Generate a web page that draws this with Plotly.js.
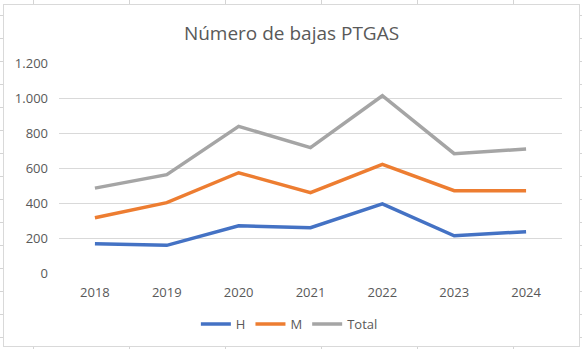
<!DOCTYPE html>
<html>
<head>
<meta charset="utf-8">
<script src="https://cdn.plot.ly/plotly-3.0.1.min.js"></script>
<style>
  html, body { margin: 0; padding: 0; }
  #page {
    position: relative; width: 582px; height: 349px; overflow: hidden;
    background-color: #ffffff;
    background-image:
      repeating-linear-gradient(to right, transparent 0px, transparent 33px, #d4d4d4 33px, #d4d4d4 34px, transparent 34px, transparent 96px),
      repeating-linear-gradient(to bottom, transparent 0px, transparent 15px, #d4d4d4 15px, #d4d4d4 16px, transparent 16px, transparent 23px);
  }
  #box {
    position: absolute; left: 3px; top: 4px; width: 575px; height: 341px;
    border: 1px solid #d9d9d9; background: #ffffff;
  }
  #chart { width: 575px; height: 341px; }
</style>
</head>
<body>
<div id="page"><div id="box"><div id="chart"></div></div></div>
<script>
// Data
const years = ['2018', '2019', '2020', '2021', '2022', '2023', '2024'];
const hombres = [167, 158, 270, 259, 395, 213, 236];
const mujeres = [316, 402, 573, 459, 621, 470, 470];
const total = [485, 562, 838, 716, 1013, 682, 708];
const seriesNames = ['H', 'M', 'Total'];
const chartTitle = 'Número de bajas PTGAS';

const colors = ['#4472C4', '#ED7D31', '#A5A5A5'];
const values = [hombres, mujeres, total];

const traces = values.map((v, i) => ({
  type: 'scatter',
  mode: 'lines',
  x: years,
  y: v,
  name: seriesNames[i],
  line: { color: colors[i], width: 3.5 },
  hoverinfo: 'x+y+name'
}));

const font = "'Open Sans', 'Liberation Sans', sans-serif";

const layout = {
  width: 575,
  height: 341,
  margin: { l: 55, r: 17, t: 58, b: 73, autoexpand: false },
  paper_bgcolor: '#ffffff',
  plot_bgcolor: '#ffffff',
  separators: ',.',
  font: { family: font, size: 13, color: '#595959' },
  title: {
    text: chartTitle,
    font: { family: font, size: 19, color: '#595959' },
    x: 0.5, xanchor: 'center',
    y: 1 - 28 / 341, yanchor: 'middle', yref: 'container'
  },
  xaxis: {
    type: 'category',
    range: [-0.5, years.length - 0.5],
    showgrid: false,
    zeroline: false,
    showline: false,
    ticks: '',
    tickfont: { family: font, size: 13, color: '#595959' },
    ticklabelstandoff: 10,
    fixedrange: true
  },
  yaxis: {
    range: [0, 1200],
    dtick: 200,
    tickformat: ',d',
    showgrid: true,
    gridcolor: '#d9d9d9',
    gridwidth: 1,
    zeroline: false,
    showline: false,
    ticks: '',
    tickfont: { family: font, size: 13, color: '#595959' },
    ticklabelstandoff: 10,
    fixedrange: true
  },
  showlegend: true,
  legend: {
    orientation: 'h',
    x: 0.458, xanchor: 'center',
    y: -0.243, yanchor: 'middle',
    font: { family: font, size: 13, color: '#595959' },
    itemwidth: 30,
    tracegroupgap: 0
  }
};

Plotly.newPlot('chart', traces, layout, { displayModeBar: false, staticPlot: true });
</script>
</body>
</html>
